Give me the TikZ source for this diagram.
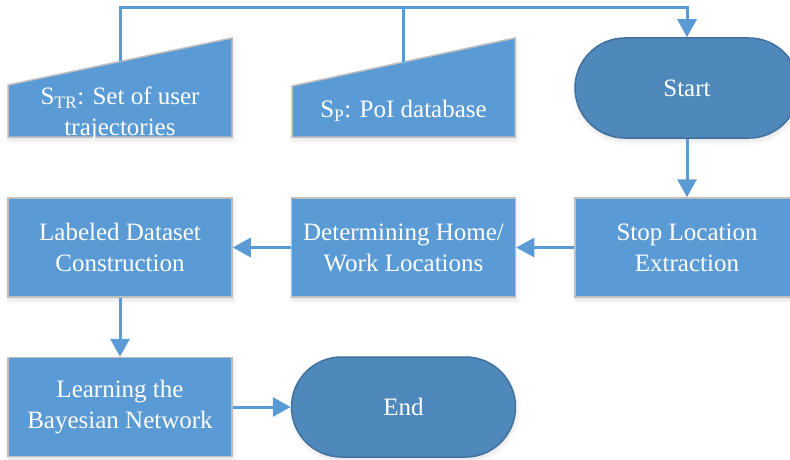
\documentclass[tikz,border=0pt]{standalone}
\usepackage{fontspec}
\setmainfont{Liberation Serif}
\usetikzlibrary{arrows.meta,shadows.blur}
\definecolor{boxblue}{HTML}{5B9BD5}
\definecolor{termblue}{HTML}{4F88BB}
\definecolor{termline}{HTML}{41719C}
\definecolor{boxline}{HTML}{BFBFBF}
\begin{document}
\begin{tikzpicture}[x=1pt,y=-1pt,
  softshadow/.style={blur shadow={shadow xshift=1pt, shadow yshift=-3pt, shadow blur radius=5pt, shadow opacity=12}},
  txt/.style={text=white, font=\fontsize{25}{31}\selectfont, align=center},
  proc/.style={txt, softshadow, draw=boxline, line width=1.5pt, fill=boxblue, minimum width=224pt, minimum height=99pt, inner sep=0pt},
  term/.style={txt, softshadow, draw=termline, line width=1.5pt, fill=termblue, rounded corners=50pt, minimum width=224pt, minimum height=100pt, inner sep=0pt},
  manin/.style={softshadow, draw=boxline, line width=1.5pt, fill=boxblue},
  flow/.style={draw=boxblue, line width=3pt, -{Triangle[width=19pt,length=18pt]}},
  link/.style={draw=boxblue, line width=3pt}]
\useasboundingbox (0,0) rectangle (790,460);

% manual input shapes
\path[manin] (8,85) -- (232,38) -- (232,137) -- (8,137) -- cycle;
\path[manin] (292,86) -- (515,38) -- (515,137) -- (292,137) -- cycle;
\node[txt] (tr) at (120,114) {S\textsubscript{TR}: Set of user\\trajectories};
\node[txt] (poi) at (403.5,111) {S\textsubscript{P}: PoI database};
\coordinate (jtr) at (120,61.5);
\coordinate (jp) at (403.5,62);
\coordinate (top) at (687,8);

% process nodes
\node[term] (start) at (687,88) {Start};
\node[proc] (stop) at (687,247.5) {Stop Location\\Extraction};
\node[proc] (home) at (403.5,247.5) {Determining Home/\\Work Locations};
\node[proc] (label) at (120,247.5) {Labeled Dataset\\Construction};
\node[proc] (learn) at (120,407) {Learning the\\Bayesian Network};
\node[term] (endn) at (403.5,407) {End};

% connectors
\draw[flow] (jtr) |- (top) -- (start.north);
\draw[link] (jp) -- (jp |- top);
\draw[flow] (start.south) -- (stop.north);
\draw[flow] (stop.west) -- (home.east);
\draw[flow] (home.west) -- (label.east);
\draw[flow] (label.south) -- (learn.north);
\draw[flow] (learn.east) -- (endn.west);
\end{tikzpicture}
\end{document}
